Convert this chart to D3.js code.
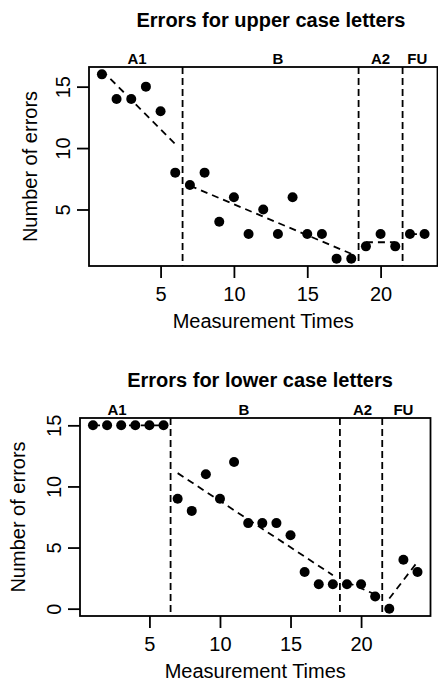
<!DOCTYPE html>
<html><head><meta charset="utf-8">
<script src="https://cdn.jsdelivr.net/npm/d3@7"></script>
<style>body{margin:0;background:#fff} svg{display:block}</style>
</head><body>
<svg id="c" width="438" height="686"></svg>
<script>
// ---- data ----
const upperTimes  = [1,2,3,4,5,6,7,8,9,10,11,12,13,14,15,16,17,18,19,20,21,22,23];
const upperErrors = [16,14,14,15,13,8,7,8,4,6,3,5,3,6,3,3,1,1,2,3,2,3,3];
const lowerTimes  = [1,2,3,4,5,6,7,8,9,10,11,12,13,14,15,16,17,18,19,20,21,22,23,24];
const lowerErrors = [15,15,15,15,15,15,9,8,11,9,12,7,7,7,6,3,2,2,2,2,1,0,4,3];
const phaseNames = ["A1","B","A2","FU"];
const upperPhaseEnds = [6,18,21,23];   // last measurement time of each phase
const lowerPhaseEnds = [6,18,21,24];
const upperPhaseLabelAt = [3.4,13,20,22.5]; // label positions in measurement-time units
const lowerPhaseLabelAt = [2.7,11.7,20.1,23];
const upperYTicks = [5,10,15];
const lowerYTicks = [0,5,10,15];
const xTicks = [5,10,15,20];
const titles = ["Errors for upper case letters","Errors for lower case letters"];
const xTitle = "Measurement Times";
const yTitle = "Number of errors";

// ---- drawing ----
const svg = d3.select("#c");
const FONT = "'Liberation Sans', Arial, Helvetica, sans-serif";
const LW = 1.8;

function rExtent(arr){ // R-style axis range: data range expanded by 4%
  const [a,b] = d3.extent(arr); const d = (b-a)*0.04; return [a-d, b+d];
}
function fit(xs, ys){
  const mx = d3.mean(xs), my = d3.mean(ys);
  let sxy=0, sxx=0;
  xs.forEach((v,i)=>{ sxy += (v-mx)*(ys[i]-my); sxx += (v-mx)*(v-mx); });
  const b = sxx ? sxy/sxx : 0;
  return v => my + b*(v-mx);
}

function panel(c){
  const g = svg.append("g");
  const x = d3.scaleLinear().domain(rExtent(c.times)).range([c.left, c.right]);
  const y = d3.scaleLinear().domain(rExtent(c.values)).range([c.bottom, c.top]);
  const data = c.times.map((t,i)=>({t, v:c.values[i]}));

  let start = d3.min(c.times);
  const phases = c.ends.map((e,i)=>{ const p={name:phaseNames[i], s:start, e}; start = e+1; return p; });

  g.selectAll("line.sep").data(phases.slice(0,-1)).join("line")
    .attr("x1", p=>x(p.e+0.5)).attr("x2", p=>x(p.e+0.5))
    .attr("y1", c.top).attr("y2", c.bottom)
    .attr("stroke","#000").attr("stroke-width",LW).attr("stroke-dasharray","7,4");

  phases.forEach(p=>{
    const pts = data.filter(d=>d.t>=p.s && d.t<=p.e);
    const f = fit(pts.map(d=>d.t), pts.map(d=>d.v));
    g.append("line")
      .attr("x1", x(p.s)).attr("y1", y(f(p.s)))
      .attr("x2", x(p.e)).attr("y2", y(f(p.e)))
      .attr("stroke","#000").attr("stroke-width",LW).attr("stroke-dasharray","7,5");
  });

  g.selectAll("circle").data(data).join("circle")
    .attr("cx", d=>x(d.t)).attr("cy", d=>y(d.v)).attr("r",5).attr("fill","#000");

  g.append("rect").attr("x",c.left).attr("y",c.top)
    .attr("width",c.right-c.left).attr("height",c.bottom-c.top)
    .attr("fill","none").attr("stroke","#000").attr("stroke-width",LW);

  const ax = g.append("g").attr("transform",`translate(0,${c.bottom})`)
    .call(d3.axisBottom(x).tickValues(xTicks).tickFormat(d3.format("d")).tickSize(12).tickSizeOuter(0).tickPadding(8));
  ax.select(".domain").remove();
  ax.selectAll("line").attr("stroke","#000").attr("stroke-width",LW);
  ax.selectAll("text").attr("fill","#000").attr("font-family",FONT).attr("font-size",20)
    .attr("dy",null).attr("y",35);

  const ay = g.append("g").attr("transform",`translate(${c.left},0)`)
    .call(d3.axisLeft(y).tickValues(c.yTicks).tickFormat(d3.format("d")).tickSize(12).tickSizeOuter(0));
  ay.select(".domain").remove();
  ay.selectAll("line").attr("stroke","#000").attr("stroke-width",LW);
  ay.selectAll("text").attr("fill","#000").attr("font-family",FONT).attr("font-size",20)
    .attr("dy",null).attr("x",0).attr("y",-19).attr("text-anchor","middle").attr("transform","rotate(-90)");

  g.selectAll("text.ph").data(phases).join("text")
    .attr("x",(p,i)=>x(c.labelAt[i])).attr("y",c.top-3.5)
    .attr("text-anchor","middle").attr("font-family",FONT).attr("font-weight","bold")
    .attr("font-size",15).text(p=>p.name);

  g.append("text").attr("x",c.titleX).attr("y",c.titleY).attr("text-anchor","middle")
    .attr("font-family",FONT).attr("font-weight","bold").attr("font-size",20).text(c.title);
  g.append("text").attr("x",(c.left+c.right)/2).attr("y",c.bottom+62).attr("text-anchor","middle")
    .attr("font-family",FONT).attr("font-size",20).text(xTitle);
  g.append("text").attr("transform",`translate(${c.yTitleX},${(c.top+c.bottom)/2}) rotate(-90)`)
    .attr("text-anchor","middle").attr("font-family",FONT).attr("font-size",20).text(yTitle);
}

panel({times:upperTimes, values:upperErrors, ends:upperPhaseEnds, labelAt:upperPhaseLabelAt,
  yTicks:upperYTicks, left:89, right:437.5, top:67, bottom:266, title:titles[0],
  titleX:271, titleY:26.5, yTitleX:37});
panel({times:lowerTimes, values:lowerErrors, ends:lowerPhaseEnds, labelAt:lowerPhaseLabelAt,
  yTicks:lowerYTicks, left:80, right:430.5, top:418, bottom:616, title:titles[1],
  titleX:260, titleY:386.5, yTitleX:25});
</script>
</body></html>
